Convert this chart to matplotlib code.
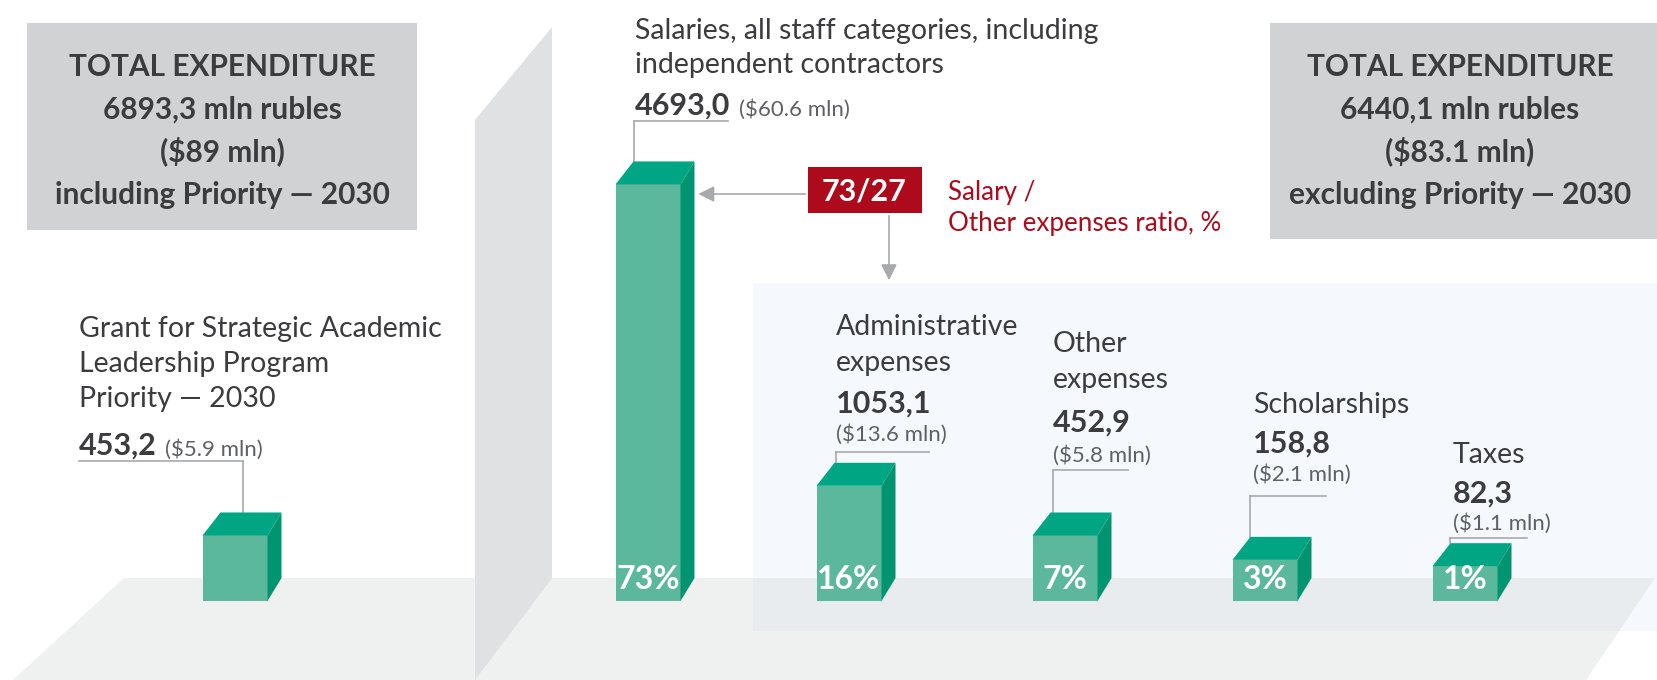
import matplotlib
matplotlib.use("Agg")
import matplotlib.pyplot as plt
from matplotlib.patches import Polygon, Rectangle, FancyArrowPatch
import numpy as np

# ---- data ----
names = ["Grant for Strategic Academic\nLeadership Program\nPriority — 2030",
         "Salaries, all staff categories, including\nindependent contractors",
         "Administrative\nexpenses",
         "Other\nexpenses",
         "Scholarships",
         "Taxes"]
rub = np.array([453.2, 4693.0, 1053.1, 452.9, 158.8, 82.3])   # mln rubles
usd = ["5.9", "60.6", "13.6", "5.8", "2.1", "1.1"]             # $ mln
share = [None, 73, 16, 7, 3, 1]                                # % of total excl. grant
tot_rub = [6893.3, 6440.1]
tot_usd = ["89", "83.1"]
tot_note = ["including Priority — 2030", "excluding Priority — 2030"]

# ---- layout (pixels, y down) ----
W, H = 1657, 680
bar_x = [235, 648, 849, 1065, 1265, 1465]
bar_w = 65
floor_y = 601
stub = 28          # visual stub so tiny bars stay visible
k = 0.0828         # px per mln rubles
dxl, dxr, dy = 18, 14, 23

# label blocks: x, first name baseline, name gap, value baseline, usd inline?, usd baseline,
# leader y, leader x0, x1, vertical x
lab = [
    dict(x=79, ny=337, gap=35, vy=455, inline=True, uy=455, ly=461, lx0=79, lx1=243, lv=243),
    dict(x=635, ny=39, gap=34, vy=115, inline=True, uy=115, ly=121, lx0=634, lx1=728, lv=634),
    dict(x=836, ny=335, gap=36, vy=413, inline=False, uy=441, ly=452, lx0=836, lx1=929, lv=836),
    dict(x=1053, ny=352, gap=36, vy=432, inline=False, uy=462, ly=470, lx0=1053, lx1=1128, lv=1053),
    dict(x=1253, ny=413, gap=36, vy=453, inline=False, uy=481, ly=496, lx0=1250, lx1=1326, lv=1250),
    dict(x=1453, ny=463, gap=36, vy=503, inline=False, uy=530, ly=538, lx0=1450, lx1=1527, lv=1450),
]

BOX = '#d1d2d4'
TXT = '#3c3c3e'
SUB = '#5f6063'
LEAD = '#a7a9ac'
FRONT = '#5cb89d'
TOP = '#00a583'
SIDE = '#009570'
RED = '#ad0b1b'
FLOOR = '#eff0f0'
WALL = '#e0e1e3'
PANEL = '#f5f9fd'
OVER = '#e9ecee'

plt.rcParams['font.family'] = ['Lato', 'DejaVu Sans']

fig = plt.figure(figsize=(W / 100, H / 100), dpi=100)
ax = fig.add_axes([0, 0, 1, 1])
ax.set_xlim(0, W)
ax.set_ylim(H, 0)
ax.axis('off')

# bar axes: y in mln rubles
axb = fig.add_axes([0, 0, 1, 1], sharex=ax)
axb.set_autoscale_on(False)
v0 = floor_y - stub
axb.set_ylim((v0 - H) / k, v0 / k)
axb.patch.set_visible(False)
axb.axis('off')

# ---- scene ----
ax.add_patch(Polygon([(124, 578), (1655, 578), (1586, 680), (13, 680)], color=FLOOR, lw=0))
ax.add_patch(Polygon([(475, 120), (552, 27), (552, 578), (475, 680)], color=WALL, lw=0))
ax.add_patch(Rectangle((753, 283), W - 753, 631 - 283, color=PANEL, lw=0))
ax.add_patch(Polygon([(753, 578), (1655, 578), (1619, 631), (753, 631)], color=OVER, lw=0))

# total boxes
for (x0, x1, y1), r, u, note in zip([(27, 417, 230), (1270, W, 239)], tot_rub, tot_usd, tot_note):
    ax.add_patch(Rectangle((x0, 23), x1 - x0, y1 - 23, color=BOX, lw=0))
    cx = (x0 + x1) / 2 if x1 < W else 1460
    lines = ["TOTAL EXPENDITURE", f"{r:.1f}".replace('.', ',') + " mln rubles",
             r"(\$" + u + " mln)", note]
    for yb, t in zip([76, 119, 161, 204], lines):
        ax.text(cx, yb, t, ha='center', va='baseline', fontsize=21.5, fontweight='bold', color=TXT)

# ---- bars ----
inv = ax.transData.inverted()
bot = -stub / k
axb.bar(bar_x, rub - bot, bottom=bot, width=bar_w, color=FRONT, lw=0, zorder=2)
tops = []
for xc, v in zip(bar_x, rub):
    x0, x1 = xc - bar_w / 2, xc + bar_w / 2
    yt = inv.transform(axb.transData.transform((xc, v)))[1]
    tops.append(yt)
    axb.add_patch(Polygon([(x0, yt), (x1, yt), (x1 + dxr, yt - dy), (x0 + dxl, yt - dy)],
                          closed=True, color=TOP, lw=0, transform=ax.transData, zorder=2))
    axb.add_patch(Polygon([(x1, yt), (x1 + dxr, yt - dy), (x1 + dxr, floor_y - dy), (x1, floor_y)],
                          closed=True, color=SIDE, lw=0, transform=ax.transData, zorder=2))

for xc, s in zip(bar_x, share):
    if s is not None:
        axb.text(xc, 589, f"{s}%", ha='center', va='baseline', fontsize=23,
                 fontweight='bold', color='white', transform=ax.transData, zorder=5)

# ---- labels and leaders ----
for i, L in enumerate(lab):
    for j, line in enumerate(names[i].split('\n')):
        ax.text(L['x'], L['ny'] + j * L['gap'], line, ha='left', va='baseline',
                fontsize=20.5, color=TXT)
    vt = ax.text(L['x'], L['vy'], f"{rub[i]:.1f}".replace('.', ','), ha='left', va='baseline',
                 fontsize=22, fontweight='bold', color=TXT)
    ut = r"(\$" + usd[i] + " mln)"
    if L['inline']:
        ax.annotate(ut, xy=(1, 0), xycoords=vt, xytext=(6, 0), textcoords='offset points',
                    ha='left', va='bottom', fontsize=16, color=SUB)
    else:
        ax.text(L['x'], L['uy'], ut, ha='left', va='baseline', fontsize=16, color=SUB)
    yb = tops[i] - dy
    ax.plot([L['lx0'], L['lx1']], [L['ly'], L['ly']], color=LEAD, lw=1.2)
    ax.plot([L['lv'], L['lv']], [L['ly'], yb], color=LEAD, lw=1.2)

# ratio box and arrows
ax.add_patch(Rectangle((808, 167), 114, 46, color=RED, lw=0))
ax.text(864, 191, f"{share[1]}/{100 - share[1]}", ha='center', va='center', fontsize=22,
        fontweight='bold', color='white')
ax.text(948, 200, "Salary /", ha='left', va='baseline', fontsize=18.7, color=RED)
ax.text(948, 231, "Other expenses ratio, %", ha='left', va='baseline', fontsize=18.7, color=RED)
ax.add_patch(FancyArrowPatch((808, 194), (bar_x[1] + bar_w / 2 + dxr + 1, 194),
                             arrowstyle='-|>,head_length=6,head_width=3', color=LEAD, lw=1.2,
                             mutation_scale=1.6))
ax.add_patch(FancyArrowPatch((889, 213), (889, 283),
                             arrowstyle='-|>,head_length=6,head_width=3', color=LEAD, lw=1.2,
                             mutation_scale=1.6))

fig.savefig("out.png", dpi=100)
